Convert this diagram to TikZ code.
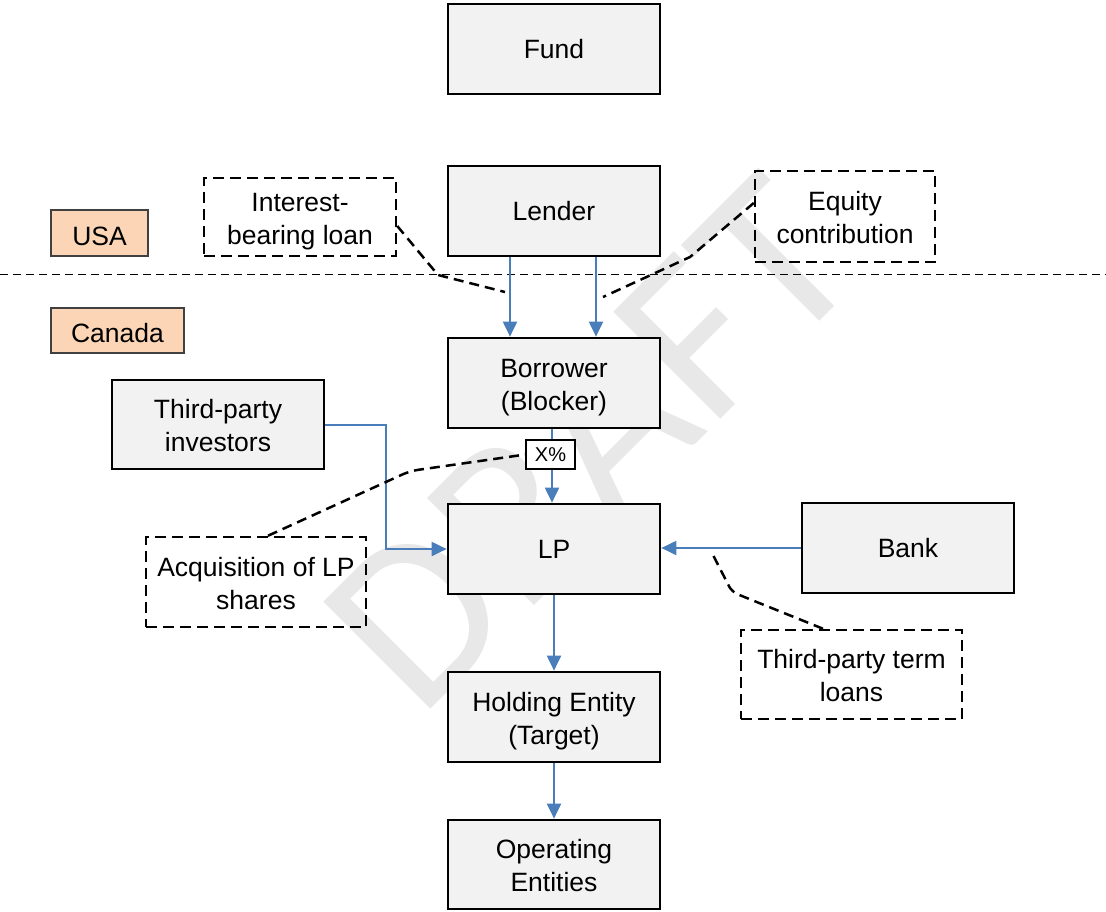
\documentclass[tikz,border=0pt]{standalone}
\usepackage{fontspec}
\setmainfont{Liberation Sans}
\newfontfamily\wmfont{Carlito}
\usetikzlibrary{arrows.meta,calc}

\definecolor{boxfill}{HTML}{F2F2F2}
\definecolor{flowblue}{HTML}{4A7EBB}
\definecolor{regionfill}{HTML}{FBD5B5}
\definecolor{regionedge}{HTML}{404040}
\definecolor{wmgray}{HTML}{E8E8E8}

\newcommand{\entfont}{\fontsize{26.5}{33}\selectfont}
\newcommand{\pctfont}{\fontsize{20}{24}\selectfont}
% two centred lines with a fixed top and bottom, so every block sits alike
\newcommand{\twolines}[2]{\rule{0pt}{27.5pt}#1\\#2\rule[-6pt]{0pt}{6pt}}

\begin{document}
\begin{tikzpicture}[x=1pt,y=-1pt,
  entity/.style={draw=black, line width=2.7pt, fill=boxfill,
    minimum width=212pt, minimum height=90pt, inner sep=0pt,
    align=center, font=\entfont},
  region/.style={draw=regionedge, line width=1.6pt, fill=regionfill,
    inner sep=0pt, font=\entfont},
  callout/.style={draw=black, line width=2.5pt, dash pattern=on 11pt off 6pt,
    inner sep=0pt, align=center, font=\entfont},
  pct/.style={draw=black, line width=1.3pt, fill=white, inner sep=0pt,
    minimum width=49pt, minimum height=29pt, font=\pctfont},
  flow/.style={draw=flowblue, line width=2pt,
    -{Triangle[length=15pt,width=14pt]}},
  leader/.style={draw=black, line width=2.5pt, dash pattern=on 10pt off 6pt},
  border/.style={draw=black, line width=1.8pt, dash pattern=on 8pt off 5pt},
  watermark/.style={text=wmgray, inner sep=0pt, rotate=45,
    font=\wmfont\fontsize{236}{240}\selectfont}]

% canvas
\fill[white] (0,0) rectangle (1106,911);
\useasboundingbox (0,0) rectangle (1106,911);

% watermark behind the chart
\node[watermark] (wm) at (590,443) {DRAFT};

% country border
\coordinate (bl) at (0,274.5);
\coordinate (br) at (1106,274.5);
\draw[border] (bl) -- (br);

% country labels
\node[region, minimum width=97pt, minimum height=46pt] (usa) at (99.5,233) {\rule{0pt}{25pt}USA};
\node[region, minimum width=133pt, minimum height=45pt] (canada) at (117.5,330.5) {\rule{0pt}{25pt}Canada};

% entities
\node[entity] (fund) at (554,49) {Fund};
\node[entity] (lender) at (554,211) {Lender};
\node[entity] (borrower) at (554,383) {\twolines{Borrower}{(Blocker)}};
\node[entity] (lp) at (554,549) {LP};
\node[entity] (holding) at (554,717) {\twolines{Holding Entity}{(Target)}};
\node[entity, minimum height=89pt] (operating) at (554,864.5) {\twolines{Operating}{Entities}};
\node[entity, minimum height=89pt] (investors) at (218,424.5) {\twolines{Third-party}{investors}};
\node[entity] (bank) at (908,548) {Bank};

% flows
\draw[flow] ([xshift=-44pt]lender.south) -- ([xshift=-44pt]borrower.north);
\draw[flow] ([xshift=42pt]lender.south) -- ([xshift=42pt]borrower.north);
\draw[flow] ([xshift=-2pt]borrower.south) -- ([xshift=-2pt]lp.north);
\draw[flow] (investors.east) -| ([xshift=-61pt]lp.west) -- (lp.west);
\draw[flow] (bank.west) -- (bank.west -| lp.east);
\draw[flow] (lp.south) -- (holding.north);
\draw[flow] (holding.south) -- (operating.north);

% ownership share
\node[pct] (share) at (550.5,454.5) {X\%};

% callouts
\node[callout, minimum width=192pt, minimum height=78pt] (interest) at (300,217) {\twolines{Interest-}{bearing loan}};
\node[callout, minimum width=180pt, minimum height=91pt] (equity) at (845,216.5) {\twolines{Equity}{contribution}};
\node[callout, minimum width=220pt, minimum height=90pt] (acq) at (256,582) {\twolines{Acquisition of LP}{shares}};
\node[callout, minimum width=221pt, minimum height=89pt] (termloans) at (851.5,674.5) {\twolines{Third-party term}{loans}};

% callout leaders
\coordinate (ib1) at (438,275);
\coordinate (ib2) at (505,292);
\draw[leader] ($(interest.east)+(0,9)$) -- (ib1) -- (ib2);

\coordinate (ec1) at (690,257);
\coordinate (ec2) at (603,297);
\draw[leader] ($(equity.west)+(0,-13.5)$) -- (ec1) -- (ec2);

\coordinate (aq1) at (410,471);
\draw[leader, rounded corners=8pt] ($(acq.north)+(12,0)$) -- (aq1) -- (share.west);

\coordinate (tl1) at (732,592);
\coordinate (tl2) at (713,555);
\draw[leader, rounded corners=6pt] ($(termloans.north)+(-28.5,0)$) -- (tl1) -- (tl2);

\end{tikzpicture}
\end{document}
